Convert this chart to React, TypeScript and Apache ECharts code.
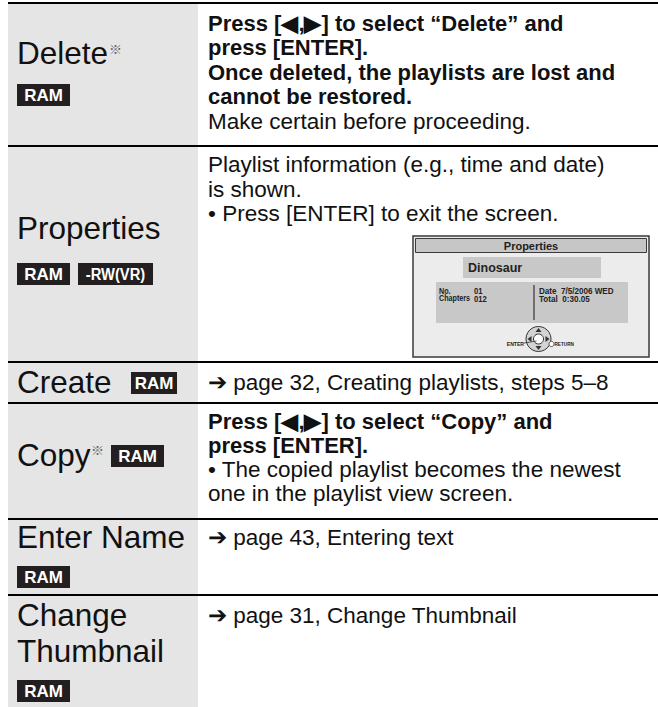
import React, { useEffect, useRef } from "react";
import * as echarts from "echarts";

// ---------- content ----------
const rowLabels: string[][] = [
  ["Delete"],
  ["Properties"],
  ["Create"],
  ["Copy"],
  ["Enter Name"],
  ["Change", "Thumbnail"],
];
const rowBadges: string[][] = [["RAM"], ["RAM", "-RW(VR)"], ["RAM"], ["RAM"], ["RAM"], ["RAM"]];
const rowNoteMark: boolean[] = [true, false, false, true, false, false];
const noteMark = "※";

type Line = { t: string; b?: boolean };
const rowBody: Line[][] = [
  [
    { t: "Press [◀,▶] to select “Delete” and", b: true },
    { t: "press [ENTER].", b: true },
    { t: "Once deleted, the playlists are lost and", b: true },
    { t: "cannot be restored.", b: true },
    { t: "Make certain before proceeding." },
  ],
  [
    { t: "Playlist information (e.g., time and date)" },
    { t: "is shown." },
    { t: "• Press [ENTER] to exit the screen." },
  ],
  [{ t: "➔ page 32, Creating playlists, steps 5–8" }],
  [
    { t: "Press [◀,▶] to select “Copy” and", b: true },
    { t: "press [ENTER].", b: true },
    { t: "• The copied playlist becomes the newest" },
    { t: "one in the playlist view screen." },
  ],
  [{ t: "➔ page 43, Entering text" }],
  [{ t: "➔ page 31, Change Thumbnail" }],
];

const screenTitle = "Properties";
const screenName = "Dinosaur";
const screenInfoLeft: string[][] = [["No.", "01"], ["Chapters", "012"]];
const screenInfoRight: string[] = ["Date  7/5/2006 WED", "Total  0:30.05"];
const screenEnter = "ENTER";
const screenReturn = "RETURN";

// ---------- layout ----------
const W = 658;
const H = 707;
const FONT = "'Liberation Sans', Arial, Helvetica, sans-serif";
const COL_X = 8;
const COL_W = 190;
const BODY_X = 208;
const GRAY = "#e5e5e5";
const BADGE = "#231f20";
const LABEL_SIZE = 31.5;
const BODY_SIZE = 22.5;
const BOLD_SIZE = 22;
const rowLines = [3, 146, 362, 403, 519, 595];
const labelY: number[][] = [[53], [228], [382], [455], [537], [615, 651]];
const badgeBoxes: { x: number; y: number; w: number }[][] = [
  [{ x: 17, y: 84, w: 53 }],
  [
    { x: 17, y: 263, w: 53 },
    { x: 78, y: 263, w: 75 },
  ],
  [{ x: 131, y: 372, w: 46 }],
  [{ x: 111, y: 445, w: 53 }],
  [{ x: 17, y: 566, w: 53 }],
  [{ x: 17, y: 680, w: 53 }],
];
const noteXY: [number, number][] = [[109, 48], [0, 0], [0, 0], [91, 449], [0, 0], [0, 0]];
const bodyY: number[][] = [
  [23, 47.5, 72, 96.5, 121],
  [164, 189, 213],
  [382],
  [421, 445, 469, 493],
  [537],
  [615],
];

function txt(
  x: number,
  y: number,
  text: string,
  size: number,
  opts: { bold?: boolean; fill?: string; align?: string; scaleX?: number; family?: string } = {}
) {
  return {
    type: "text",
    x,
    y,
    scaleX: opts.scaleX ?? 1,
    silent: true,
    style: {
      text,
      fill: opts.fill ?? "#111",
      fontSize: size,
      fontFamily: opts.family ?? FONT,
      fontWeight: opts.bold ? "bold" : "normal",
      align: opts.align ?? "left",
      verticalAlign: "middle",
    },
  };
}

function buildGraphics() {
  const els: any[] = [];
  els.push({
    type: "rect",
    shape: { x: COL_X, y: rowLines[0], width: COL_W, height: H - rowLines[0] },
    style: { fill: GRAY },
    silent: true,
  });
  rowLines.forEach((y) => {
    els.push({
      type: "line",
      shape: { x1: COL_X, y1: y, x2: W, y2: y },
      style: { stroke: "#000", lineWidth: 2 },
      silent: true,
    });
  });

  rowLabels.forEach((lines, r) => {
    lines.forEach((l, i) => els.push(txt(17, labelY[r][i], l, LABEL_SIZE, { fill: "#111" })));
    if (rowNoteMark[r]) {
      const [nx, ny] = noteXY[r];
      els.push(
        txt(nx, ny, noteMark, 13, {
          fill: "#666",
          family: "'Noto Sans CJK JP', 'DejaVu Sans', sans-serif",
        })
      );
    }
    rowBadges[r].forEach((b, i) => {
      const bx = badgeBoxes[r][i];
      els.push({
        type: "rect",
        shape: { x: bx.x, y: bx.y, width: bx.w, height: 22 },
        style: { fill: BADGE },
        silent: true,
      });
      els.push(
        txt(bx.x + bx.w / 2, bx.y + 11.5, b, b.length > 3 ? 16 : 17, {
          bold: true,
          fill: "#fff",
          align: "center",
          scaleX: b.length > 3 ? 0.92 : 1,
        })
      );
    });
  });

  rowBody.forEach((lines, r) => {
    lines.forEach((l, i) =>
      els.push(
        txt(BODY_X, bodyY[r][i], l.t, l.b ? BOLD_SIZE : BODY_SIZE, { bold: l.b, fill: "#111" })
      )
    );
  });

  // ----- Properties screen illustration -----
  const sx = 413,
    sy = 236,
    sw = 236,
    sh = 121;
  els.push({
    type: "rect",
    shape: { x: sx, y: sy, width: sw, height: sh },
    style: { fill: "#ececec", stroke: "#3a3a3a", lineWidth: 1.5 },
    silent: true,
  });
  els.push({
    type: "rect",
    shape: { x: sx + 2.5, y: sy + 2.5, width: sw - 5, height: 14 },
    style: { fill: "#c6c6c6", stroke: "#3a3a3a", lineWidth: 1 },
    silent: true,
  });
  els.push(txt(sx + sw / 2, sy + 10, screenTitle, 11, { bold: true, fill: "#222", align: "center" }));
  els.push({
    type: "rect",
    shape: { x: 463, y: 257, width: 138, height: 21 },
    style: { fill: "#c8c8c8" },
    silent: true,
  });
  els.push(txt(468, 267.5, screenName, 12.5, { bold: true, fill: "#222" }));
  els.push({
    type: "rect",
    shape: { x: 436, y: 282, width: 192, height: 41 },
    style: { fill: "#c8c8c8" },
    silent: true,
  });
  els.push({
    type: "line",
    shape: { x1: 534, y1: 285, x2: 534, y2: 320 },
    style: { stroke: "#333", lineWidth: 1.2 },
    silent: true,
  });
  screenInfoLeft.forEach((pair, i) => {
    els.push(txt(439, 291 + i * 7.5, pair[0], 9, { bold: true, fill: "#222", scaleX: 0.8 }));
    els.push(txt(474, 291 + i * 7.5, pair[1], 9, { bold: true, fill: "#222", scaleX: 0.85 }));
  });
  screenInfoRight.forEach((s, i) => {
    els.push(txt(539, 291 + i * 7.5, s, 9, { bold: true, fill: "#222", scaleX: 0.9 }));
  });
  // nav icon
  const cx = 538.5,
    cy = 339;
  els.push({
    type: "circle",
    shape: { cx, cy, r: 12.5 },
    style: { fill: "#d4d4d4", stroke: "#333", lineWidth: 1 },
    silent: true,
  });
  els.push({
    type: "circle",
    shape: { cx, cy, r: 5 },
    style: { fill: "#fff", stroke: "#333", lineWidth: 1 },
    silent: true,
  });
  const tri = (pts: number[][]) =>
    els.push({ type: "polygon", shape: { points: pts }, style: { fill: "#333" }, silent: true });
  tri([[cx, cy - 11], [cx - 3, cy - 7], [cx + 3, cy - 7]]);
  tri([[cx, cy + 11], [cx - 3, cy + 7], [cx + 3, cy + 7]]);
  tri([[cx - 11, cy], [cx - 7, cy - 3], [cx - 7, cy + 3]]);
  tri([[cx + 11, cy], [cx + 7, cy - 3], [cx + 7, cy + 3]]);
  els.push({
    type: "line",
    shape: { x1: 524, y1: 343, x2: cx - 2, y2: cy + 2 },
    style: { stroke: "#333", lineWidth: 0.8 },
    silent: true,
  });
  els.push(txt(524, 343.5, screenEnter, 6, { bold: true, fill: "#222", align: "right", scaleX: 0.85 }));
  els.push({
    type: "circle",
    shape: { cx: 551.5, cy: 344, r: 2.6 },
    style: { fill: "#fff", stroke: "#333", lineWidth: 0.8 },
    silent: true,
  });
  els.push(txt(554.5, 344, screenReturn, 5.5, { bold: true, fill: "#222", scaleX: 0.85 }));

  return els;
}

export default function App() {
  const ref = useRef<HTMLDivElement>(null);
  useEffect(() => {
    document.body.style.margin = "0";
    if (!ref.current) return;
    const chart = echarts.init(ref.current, undefined, { renderer: "svg", width: W, height: H });
    chart.setOption({
      animation: false,
      backgroundColor: "#ffffff",
      graphic: { elements: buildGraphics() },
    });
    return () => chart.dispose();
  }, []);
  return <div ref={ref} style={{ width: W, height: H }} />;
}
